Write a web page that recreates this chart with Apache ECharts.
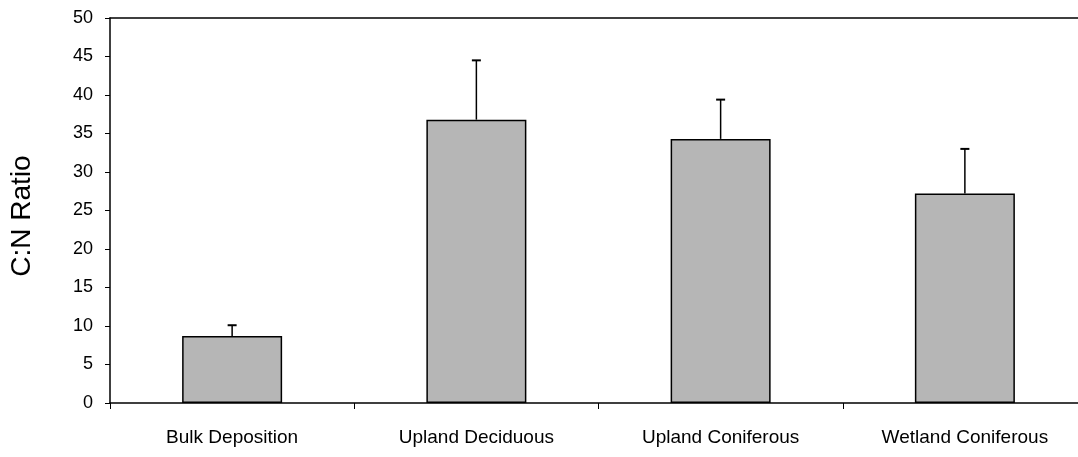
<!DOCTYPE html>
<html>
<head>
<meta charset="utf-8">
<script src="https://cdn.jsdelivr.net/npm/echarts@6/dist/echarts.min.js"></script>
<style>
  html, body { margin: 0; padding: 0; background: #fff; overflow: hidden; }
  /* plot runs a little past the right edge, as in the scan */
  #chart { width: 1087px; height: 457px; }
</style>
</head>
<body>
<div id="chart"></div>
<script>
  // categories and values
  var categories = ['Bulk Deposition', 'Upland Deciduous', 'Upland Coniferous', 'Wetland Coniferous'];
  var meanRatio = [8.7, 36.8, 34.3, 27.2];
  var errorUp = [1.4, 7.7, 5.1, 5.8];   // upper error bar length
  var yTicks = [0, 5, 10, 15, 20, 25, 30, 35, 40, 45, 50];

  var errData = meanRatio.map(function (v, i) {
    return [i, v, v + errorUp[i]];
  });

  var chart = echarts.init(document.getElementById('chart'));
  var font = 'Liberation Sans, Arial, sans-serif';

  chart.setOption({
    animation: false,
    textStyle: { fontFamily: font, color: '#000' },
    grid: { left: 110, top: 18, right: 0, bottom: 54 },
    xAxis: [
      {
        type: 'category',
        data: categories,
        boundaryGap: true,
        axisLine: { lineStyle: { color: '#000', width: 1.5 } },
        axisTick: { show: true, length: 6, lineStyle: { color: '#000' } },
        axisLabel: { color: '#000', fontSize: 19, margin: 25, fontFamily: font }
      },
      {
        type: 'category',
        data: categories,
        position: 'top',
        axisLine: { show: true, lineStyle: { color: '#000', width: 1.5 } },
        axisTick: { show: false },
        axisLabel: { show: false }
      }
    ],
    yAxis: {
      type: 'value',
      min: yTicks[0],
      max: yTicks[yTicks.length - 1],
      interval: 5,
      name: 'C:N Ratio',
      nameLocation: 'middle',
      nameGap: 74,
      nameTextStyle: { fontSize: 28, color: '#000', fontFamily: font, padding: [0, 11, 0, 0] },
      axisLine: { show: true, lineStyle: { color: '#000', width: 1.5 } },
      axisTick: { show: true, length: 5, lineStyle: { color: '#000' } },
      axisLabel: { color: '#000', fontSize: 18, margin: 17, fontFamily: font },
      splitLine: { show: false }
    },
    series: [
      {
        type: 'bar',
        data: meanRatio,
        barWidth: 100,
        itemStyle: { color: '#b6b6b6', borderColor: '#000', borderWidth: 1.5 }
      },
      {
        type: 'custom',
        data: errData,
        z: 3,
        renderItem: function (params, api) {
          var bottom = api.coord([api.value(0), api.value(1)]);
          var top = api.coord([api.value(0), api.value(2)]);
          var cap = 4.5;
          return {
            type: 'group',
            children: [
              {
                type: 'line',
                shape: { x1: top[0], y1: top[1], x2: bottom[0], y2: bottom[1] },
                style: { stroke: '#000', lineWidth: 1.5 }
              },
              {
                type: 'line',
                shape: { x1: top[0] - cap, y1: top[1], x2: top[0] + cap, y2: top[1] },
                style: { stroke: '#000', lineWidth: 2 }
              }
            ]
          };
        }
      }
    ]
  });
</script>
</body>
</html>
